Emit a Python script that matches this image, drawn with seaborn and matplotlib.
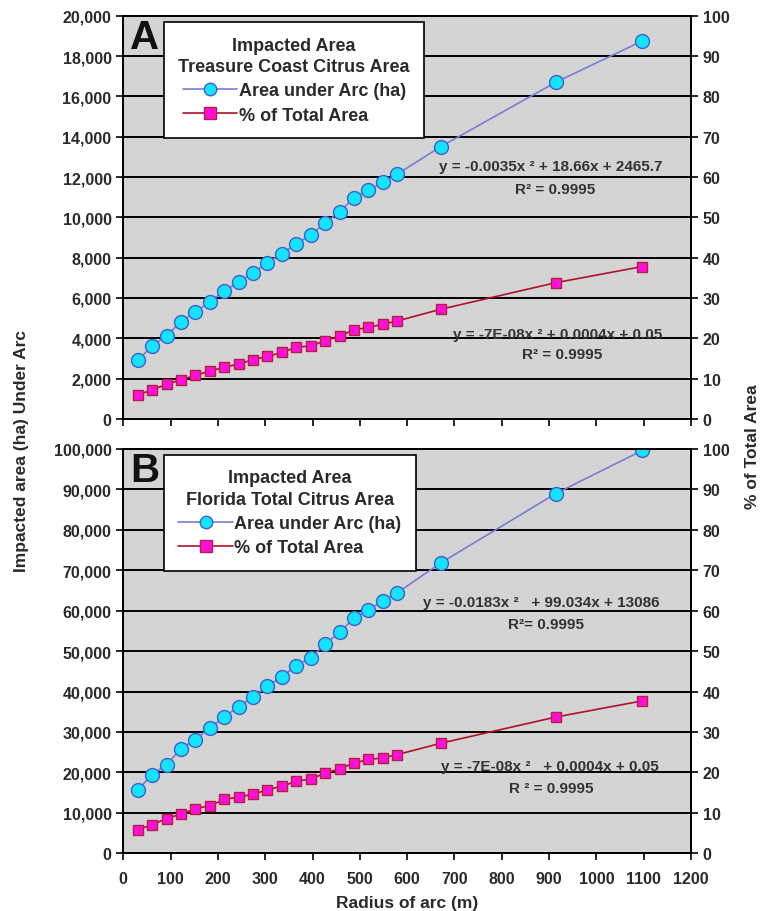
import matplotlib
matplotlib.use('Agg')
import matplotlib.pyplot as plt
from matplotlib.lines import Line2D
from matplotlib.ticker import FuncFormatter, MultipleLocator
import seaborn as sns

# radius of arc (m) - 100 ft steps, then 2200, 3000, 3600 ft
radius = [30.5, 61, 91.4, 121.9, 152.4, 182.9, 213.4, 243.8, 274.3, 304.8,
          335.3, 365.8, 396.2, 426.7, 457.2, 487.7, 518.2, 548.6, 579.1,
          670.6, 914.4, 1097.3]

# panel A - Treasure Coast citrus area
area_a = [2910, 3620, 4130, 4830, 5310, 5810, 6350, 6780, 7250, 7760,
          8200, 8700, 9120, 9730, 10270, 10980, 11350, 11730, 12140,
          13500, 16700, 18750]
pct_a = [6.0, 7.2, 8.6, 9.7, 10.8, 11.9, 12.8, 13.6, 14.7, 15.5,
         16.5, 17.8, 18.1, 19.4, 20.6, 22.1, 22.7, 23.5, 24.3,
         27.2, 33.8, 37.8]

# panel B - Florida total citrus area
area_b = [15700, 19430, 21910, 25880, 28110, 31020, 33750, 36230, 38710, 41340,
          43670, 46400, 48390, 51690, 54670, 58140, 60200, 62430, 64420,
          71790, 88980, 99650]
pct_b = [5.8, 7.1, 8.6, 9.7, 11.0, 11.8, 13.3, 13.9, 14.6, 15.7,
         16.6, 17.8, 18.4, 19.8, 20.9, 22.3, 23.2, 23.6, 24.4,
         27.2, 33.7, 37.7]

titles = ['Impacted Area\nTreasure Coast Citrus Area',
          'Impacted Area\nFlorida Total Citrus Area']
area_eqs = ['y = -0.0035x ² + 18.66x + 2465.7',
            'y = -0.0183x ²   + 99.034x + 13086']
pct_eqs = ['y = -7E-08x ² + 0.0004x + 0.05',
           'y = -7E-08x ²   + 0.0004x + 0.05']
r2_area = ['R² = 0.9995', 'R²= 0.9995']
r2_pct = ['R² = 0.9995', 'R ² = 0.9995']

sns.set_style('ticks')
plt.rcParams['font.family'] = ['Liberation Sans', 'DejaVu Sans']
plt.rcParams['font.weight'] = 'bold'
txt = '#2a2a2a'

fig = plt.figure(figsize=(7.64, 9.12), dpi=100)
ax_top = fig.add_axes([0.1614, 0.5395, 0.743, 0.4422])
ax_bot = fig.add_axes([0.1614, 0.0633, 0.743, 0.4433])

area_col = '#7b7bd6'
pct_col = '#b0102a'

panels = [
    (ax_top, area_a, pct_a, 20000, 2000, 'A', (0.0717, 0.984),
     (903, 12560), (912, 11400), (918, 4215), (928, 3220)),
    (ax_bot, area_b, pct_b, 100000, 10000, 'B', (0.0717, 0.985),
     (884, 62230), (894, 56700), (902, 21670), (904, 16150)),
]

for i, (ax, area, pct, ymax, ystep, letter, leg_xy, eq1, r1, eq2, r2) in enumerate(panels):
    ax.set_facecolor('#d4d4d4')
    ax.set_axisbelow(True)
    sns.lineplot(x=radius, y=area, ax=ax, color=area_col, linewidth=1.2,
                 marker='o', markersize=10, markerfacecolor='#14e4ff',
                 markeredgecolor='#3a5fd0', markeredgewidth=1.0, legend=False)
    ax.set_xlim(0, 1200)
    ax.set_ylim(0, ymax)
    ax.xaxis.set_major_locator(MultipleLocator(100))
    ax.yaxis.set_major_locator(MultipleLocator(ystep))
    ax.yaxis.set_major_formatter(FuncFormatter(lambda v, p: f'{int(v):,}'))
    ax.grid(axis='y', color='black', linewidth=1.4)
    ax.grid(axis='x', visible=False)
    ax.tick_params(axis='both', labelsize=11.5, colors='black', labelcolor=txt,
                   length=5, width=1.2)
    ax.tick_params(axis='x', pad=8)
    for sp in ax.spines.values():
        sp.set_color('black')
        sp.set_linewidth(1.4)
    if i == 0:
        ax.set_xticklabels([])

    ax2 = ax.twinx()
    sns.lineplot(x=radius, y=pct, ax=ax2, color=pct_col, linewidth=1.2,
                 marker='s', markersize=7.5, markerfacecolor='#ff10d8',
                 markeredgecolor='#b02040', markeredgewidth=1.0, legend=False)
    ax2.set_ylim(0, 100)
    ax2.yaxis.set_major_locator(MultipleLocator(10))
    ax2.tick_params(axis='y', labelsize=11.5, colors='black', labelcolor=txt,
                    length=5, width=1.2)
    for sp in ax2.spines.values():
        sp.set_color('black')
        sp.set_linewidth(1.4)

    ax.text(0.012, 0.995, letter, transform=ax.transAxes, fontsize=29,
            fontweight='bold', color='#111111', ha='left', va='top')

    # trendline equations
    for (px, py), s in [(eq1, area_eqs[i]), (r1, r2_area[i]),
                        (eq2, pct_eqs[i]), (r2, r2_pct[i])]:
        ax.text(px, py, s, ha='center', va='center', fontsize=11,
                fontweight='bold', color='#333333')

    handles = [
        Line2D([], [], color=area_col, marker='o', markersize=9,
               markerfacecolor='#14e4ff', markeredgecolor='#3a5fd0', lw=1.2),
        Line2D([], [], color=pct_col, marker='s', markersize=8,
               markerfacecolor='#ff10d8', markeredgecolor='#b02040', lw=1.2),
    ]
    leg = ax2.legend(handles, ['Area under Arc (ha)', '% of Total Area'],
                     title=titles[i], loc='upper left', bbox_to_anchor=leg_xy,
                     borderaxespad=0, fontsize=13, title_fontsize=13,
                     frameon=True, fancybox=False, framealpha=1,
                     edgecolor='black', handlelength=3, handletextpad=0.1,
                     labelspacing=0.4, borderpad=0.8)
    leg.get_frame().set_linewidth(1.2)
    leg.get_title().set_multialignment('center')
    leg.get_title().set_color(txt)
    leg.get_title().set_fontweight('bold')
    leg.get_title().set_linespacing(1.35)
    for t in leg.get_texts():
        t.set_color(txt)
        t.set_fontweight('bold')

ax_bot.set_xlabel('Radius of arc (m)', fontsize=12.5, color=txt, labelpad=6,
                  fontweight='bold')

fig.text(0.028, 0.505, 'Impacted area (ha) Under Arc', rotation=90,
         ha='center', va='center', fontsize=12.5, color=txt, fontweight='bold')
fig.text(0.985, 0.51, '% of Total Area', rotation=90,
         ha='center', va='center', fontsize=12.5, color=txt, fontweight='bold')

plt.savefig('out.png', dpi=100)
